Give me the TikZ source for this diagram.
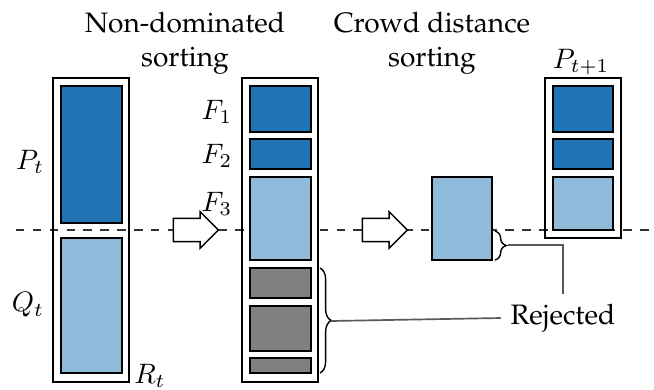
\documentclass[tikz,border=0pt]{standalone}
\usepackage[T1]{fontenc}
\renewcommand{\rmdefault}{ppl}
\usepackage{xcolor}
\usepackage{tikz}
\usetikzlibrary{fit, shapes.arrows, decorations.pathreplacing}

\definecolor{popdark}{RGB}{33,117,180}
\definecolor{poplight}{RGB}{143,186,217}
\definecolor{poprej}{RGB}{128,128,128}

\begin{document}
\begin{tikzpicture}[
  x=0.0125cm, y=-0.0125cm,
  outerbox/.style={draw, line width=0.8pt, inner sep=0pt},
  innerbox/.style={draw, line width=0.9pt, inner sep=0pt},
  bigarrow/.style={draw, single arrow, single arrow head extend=2.3pt, minimum height=16pt, inner xsep=0pt, inner ysep=3.9pt, outer sep=0pt, line width=0.5pt, fill=white},
  brace/.style={decorate, decoration={brace, amplitude=4pt}, line width=0.5pt},
  link/.style={draw=black!65, line width=0.6pt},
  ]
  \useasboundingbox (0,0) rectangle (654,389);

  % Separation line
  \draw[dashed, line width=0.5pt, black!80] (16,230) -- (654,230);

  % Titles
  \node[align=center] (title1) at (185,43) {Non-dominated\\sorting};
  \node[align=center] (title2) at (432,43) {Crowd distance\\sorting};

  % R_t = P_t + Q_t
  \node[outerbox, fit={(53,78)(129,382)}] (Rt) {};
  \node[innerbox, fill=popdark, fit={(61,86)(122,223)}] (Pt) {};
  \node[innerbox, fill=poplight, fit={(61,238)(122,373)}] (Qt) {};
  \node (Ptlabel) at (30,162) {$P_t$};
  \node (Qtlabel) at (28,305) {$Q_t$};
  \node (Rtlabel) at (150,376) {$R_t$};

  \node[bigarrow] (arrow1) at (190,230) {};

  % Fronts
  \node[outerbox, fit={(242,78)(318,382)}] (fronts) {};
  \node[innerbox, fill=popdark, fit={(250,86)(311,132)}] (F1) {};
  \node[innerbox, fill=popdark, fit={(250,139)(311,169)}] (F2) {};
  \node[innerbox, fill=poplight, fit={(250,177)(311,260)}] (F3) {};
  \node[innerbox, fill=poprej, fit={(250,268)(311,298)}] (F4) {};
  \node[innerbox, fill=poprej, fit={(250,306)(311,351)}] (F5) {};
  \node[innerbox, fill=poprej, fit={(250,358)(311,373)}] (F6) {};
  \node (F1label) at (217,112) {$F_1$};
  \node (F2label) at (217,156) {$F_2$};
  \node (F3label) at (217,204) {$F_3$};

  \node[bigarrow] (arrow2) at (379,230) {};

  % Crowding distance on F3
  \node[innerbox, fill=poplight, fit={(432,177)(492,260)}] (crowd) {};

  % Next population
  \node[outerbox, fit={(545,78)(621,238)}] (Pnext) {};
  \node[innerbox, fill=popdark, fit={(553,86)(613,132)}] (N1) {};
  \node[innerbox, fill=popdark, fit={(553,139)(613,169)}] (N2) {};
  \node[innerbox, fill=poplight, fit={(553,177)(613,230)}] (N3) {};
  \node (Pnextlabel) at (581,62) {$P_{t+1}$};

  % Rejected
  \node (rejected) at (563,318) {Rejected};
  \coordinate (tipA) at (508,245);
  \coordinate (tipB) at (331,321);
  \draw[brace] (495,231) -- (495,260);
  \draw[brace] (320,268) -- (320,373);
  \draw[link] (tipA) -| (rejected.north);
  \draw[link] (tipB) -- (rejected.west);

\end{tikzpicture}
\end{document}
